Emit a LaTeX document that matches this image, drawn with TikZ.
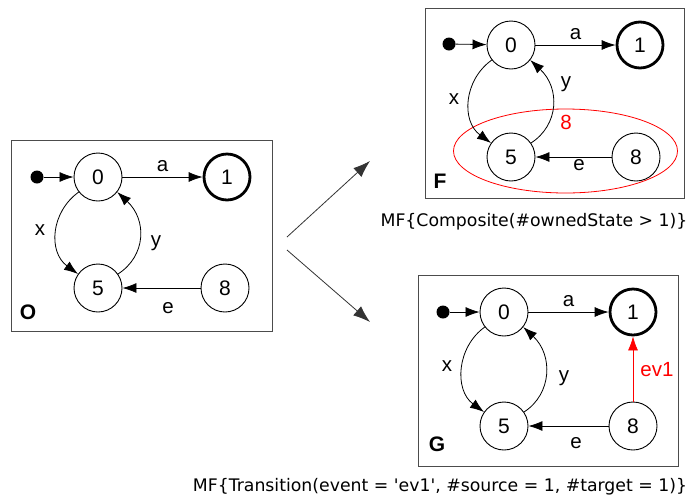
\documentclass[tikz,border=0pt]{standalone}
\usepackage{fontspec}
\setmainfont{Liberation Sans}
\newfontfamily\dejavu{DejaVu Sans}
\usetikzlibrary{arrows.meta}
\begin{document}
\begin{tikzpicture}[x=1pt,y=-1pt,
  st/.style={circle,draw,line width=0.9pt,minimum size=48pt,inner sep=0pt,font=\fontsize{21}{21}\selectfont},
  fin/.style={st,line width=2.8pt,minimum size=46pt},
  ini/.style={circle,fill=black,minimum size=13pt,inner sep=0pt},
  tr/.style={line width=0.8pt,-{Latex[length=14pt,width=10pt]}},
  lab/.style={font=\fontsize{20.5}{20.5}\selectfont,inner sep=0pt},
  boxst/.style={draw=black!70,line width=1pt},
  big/.style={draw=black!80,line width=0.8pt,-{Latex[length=17pt,width=12pt]}},
  captxt/.style={font=\dejavu\fontsize{17.3}{18}\selectfont,inner sep=0pt},
  boxname/.style={font=\bfseries\fontsize{21}{21}\selectfont,inner sep=0pt}]
\useasboundingbox (0,0) rectangle (687,499);
% ---------- O ----------
\draw[boxst] (11,140) rectangle (272,331);
\node[ini] (oi) at (37,177) {};
\node[st] (o0) at (98,177) {0};
\node[fin] (o1) at (227,177) {1};
\node[st] (o5) at (98,288) {5};
\node[st] (o8) at (225,288) {8};
\draw[tr] (oi) -- (o0);
\draw[tr] (o0) -- node[lab,above=5pt]{a} (o1);
\draw[tr] (o0.218) .. controls +(-28,20) and +(-30,-22) .. (o5.145);
\draw[tr] (o5.35) .. controls +(28,-18) and +(30,28) .. (o0.-38);
\draw[tr] (o8) -- (o5);
\node[lab] at (40,230) {x};
\node[lab] at (156,243) {y};
\node[lab] at (168,308) {e};
\node[boxname] at (28,312) {O};
% ---------- F ----------
\draw[boxst] (425,8) rectangle (684,198);
\node[ini] (fi) at (449,44) {};
\node[st] (f0) at (511,45) {0};
\node[fin] (f1) at (640,45) {1};
\node[st] (f5) at (511,157) {5};
\node[st] (f8) at (636,157) {8};
\draw[red,line width=0.8pt] (565.5,151) ellipse [x radius=112, y radius=42];
\node[lab,red] at (566,122) {8};
\draw[tr] (fi) -- (f0);
\draw[tr] (f0) -- node[lab,above=5pt]{a} (f1);
\draw[tr] (f0.218) .. controls +(-28,20) and +(-30,-22) .. (f5.145);
\draw[tr] (f5.35) .. controls +(28,-18) and +(30,28) .. (f0.-38);
\draw[tr] (f8) -- (f5);
\node[lab] at (454,99) {x};
\node[lab] at (566,84) {y};
\node[lab] at (579,165) {e};
\node[boxname] at (440,181) {F};
\node[captxt] (fcap) at (534,222) {MF\{Composite(\#ownedState > 1)\}};
% ---------- G ----------
\draw[boxst] (418,275) rectangle (678,466);
\node[ini] (gi) at (443,312) {};
\node[st] (g0) at (504,312) {0};
\node[fin] (g1) at (633,312) {1};
\node[st] (g5) at (504,426) {5};
\node[st] (g8) at (633,426) {8};
\draw[tr] (gi) -- (g0);
\draw[tr] (g0) -- node[lab,above=5pt]{a} (g1);
\draw[tr] (g0.218) .. controls +(-28,20) and +(-30,-22) .. (g5.145);
\draw[tr] (g5.35) .. controls +(28,-18) and +(30,28) .. (g0.-38);
\draw[tr] (g8) -- (g5);
\draw[tr,red] (g8) -- (g1);
\node[lab,red] at (657,370) {ev1};
\node[lab] at (447,366) {x};
\node[lab] at (564,378) {y};
\node[lab] at (576,443) {e};
\node[boxname] at (437,444) {G};
\node[captxt] (gcap) at (440,487) {MF\{Transition(event = \textquotesingle ev1\textquotesingle, \#source = 1, \#target = 1)\}};
% ---------- big arrows ----------
\coordinate (s1) at (287,237);
\coordinate (e1) at (370,161);
\coordinate (s2) at (287,250);
\coordinate (e2) at (370,322);
\draw[big] (s1) -- (e1);
\draw[big] (s2) -- (e2);
\end{tikzpicture}
\end{document}
